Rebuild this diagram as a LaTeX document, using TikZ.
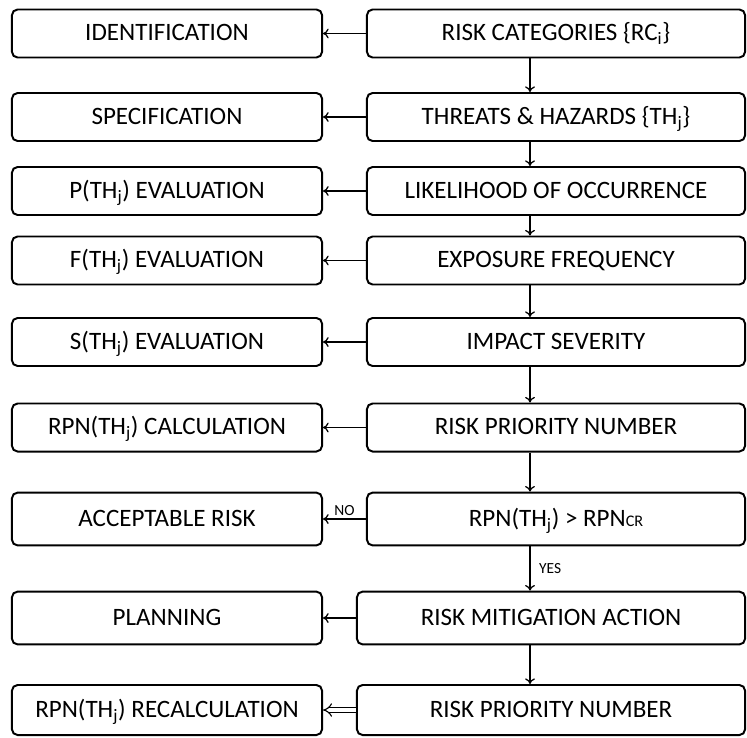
\documentclass[tikz,border=0pt]{standalone}
\usepackage{fontspec}
\setmainfont{Carlito}
\usetikzlibrary{arrows.meta}
\begin{document}
\begin{tikzpicture}[x=0.025cm, y=-0.025cm, font=\fontsize{17.8}{19}\selectfont, >={To[length=4pt,width=7pt]},
  box/.style={draw, line width=1.4pt, rounded corners=4pt, inner sep=0pt, minimum height=1.2cm,
    text height=12.5pt, text depth=2pt},
  lbox/.style={box, minimum width=7.75cm},
  rbox/.style={box, minimum width=9.45cm},
  wbox/.style={box, minimum width=9.7cm},
  link/.style={->, line width=0.9pt},
  lab/.style={font=\fontsize{11}{12}\selectfont, inner sep=2pt}]
  \useasboundingbox (0,0) rectangle (747,737);

  % Columna derecha
  \node[rbox] (rc) at (556,33.5) {RISK CATEGORIES \{RC\textsubscript{i}\}};
  \node[rbox] (th) at (556,117) {THREATS \& HAZARDS \{TH\textsubscript{j}\}};
  \node[rbox] (lo) at (556,191) {LIKELIHOOD OF OCCURRENCE};
  \node[rbox] (ef) at (556,260.5) {EXPOSURE FREQUENCY};
  \node[rbox] (is) at (556,342) {IMPACT SEVERITY};
  \node[rbox] (rpn) at (556,427.5) {RISK PRIORITY NUMBER};
  \node[rbox, minimum height=1.32cm] (test) at (556,519) {RPN(TH\textsubscript{j}) > RPN{\fontsize{11.5}{12}\selectfont CR}};
  \node[wbox, minimum height=1.32cm] (rma) at (551,618) {RISK MITIGATION ACTION};
  \node[wbox, minimum height=1.25cm] (rpnb) at (551,710) {RISK PRIORITY NUMBER};

  % Columna izquierda
  \node[lbox] (ident) at (167,33.5) {IDENTIFICATION};
  \node[lbox] (spec) at (167,117) {SPECIFICATION};
  \node[lbox] (peval) at (167,191) {P(TH\textsubscript{j}) EVALUATION};
  \node[lbox] (feval) at (167,260.5) {F(TH\textsubscript{j}) EVALUATION};
  \node[lbox] (seval) at (167,342) {S(TH\textsubscript{j}) EVALUATION};
  \node[lbox] (calc) at (167,427.5) {RPN(TH\textsubscript{j}) CALCULATION};
  \node[lbox, minimum height=1.32cm] (acc) at (167,519) {ACCEPTABLE RISK};
  \node[lbox, minimum height=1.32cm] (plan) at (167,618) {PLANNING};
  \node[lbox, minimum height=1.25cm] (recalc) at (167,710) {RPN(TH\textsubscript{j}) RECALCULATION};

  % Flujo vertical
  \coordinate (axis) at (530,0);
  \draw[link] (rc.south -| axis) -- (th.north -| axis);
  \draw[link] (th.south -| axis) -- (lo.north -| axis);
  \draw[link] (lo.south -| axis) -- (ef.north -| axis);
  \draw[link] (ef.south -| axis) -- (is.north -| axis);
  \draw[link] (is.south -| axis) -- (rpn.north -| axis);
  \draw[link] (rpn.south -| axis) -- (test.north -| axis);
  \draw[link] (test.south -| axis) -- node[lab, right=4pt] (yes) {YES} (rma.north -| axis);
  \draw[link] (rma.south -| axis) -- (rpnb.north -| axis);

  % Enlaces hacia la izquierda
  \draw[link] (rc.west) -- (ident.east);
  \draw[link] (th.west) -- (spec.east);
  \draw[link] (lo.west) -- (peval.east);
  \draw[link] (ef.west) -- (feval.east);
  \draw[link] (is.west) -- (seval.east);
  \draw[link] (rpn.west) -- (calc.east);
  \draw[link] (test.west) -- node[lab, above] (no) {NO} (acc.east);
  \draw[link] (rma.west) -- (plan.east);
  \draw[double, double distance=2.5pt, line width=0.8pt, -{Implies}] (rpnb.west) -- (recalc.east);
\end{tikzpicture}
\end{document}
